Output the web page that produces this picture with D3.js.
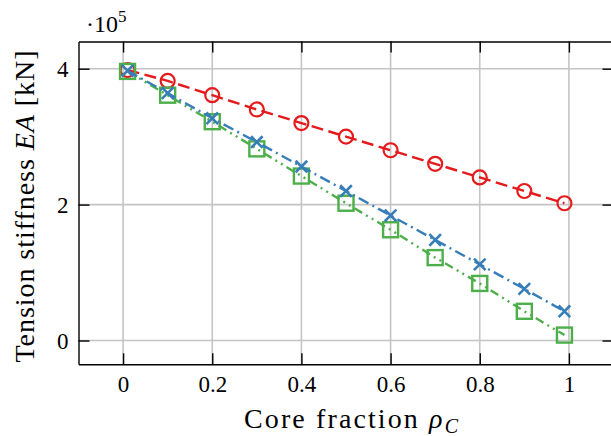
<!DOCTYPE html>
<html>
<head>
<meta charset="utf-8">
<script src="https://cdn.jsdelivr.net/npm/d3@7"></script>
<style>
  body { margin: 0; background: #fff; }
  svg { display: block; }
  text { font-family: "Liberation Serif", "Times New Roman", serif; fill: #000; }
</style>
</head>
<body>
<svg id="chart" width="611" height="436"></svg>
<script>
// Data (EA in kN)
var rho = [0.01, 0.1, 0.2, 0.3, 0.4, 0.5, 0.6, 0.7, 0.8, 0.9, 0.99];
var eaRed = [398000, 382000, 361000, 340000, 320000, 300000, 280000, 260000, 240000, 220000, 202000];
var eaBlue = [397000, 364000, 327000, 292000, 256000, 220000, 184000, 148000, 112000, 76000, 43000];
var eaGreen = [396000, 361000, 322000, 282000, 242000, 202000, 163000, 122000, 84000, 43000, 8000];
var xTicks = [0, 0.2, 0.4, 0.6, 0.8, 1];
var yTicks = [0, 200000, 400000];

var svg = d3.select("#chart");

// plot box in pixels (window.top is taken, so use a prefix)
var boxL = 78.5, boxR = 613.5, boxT = 41.5, boxB = 364.3;

var x = d3.scaleLinear().domain([-0.1, 1.1]).range([boxL, boxR]);
var y = d3.scaleLinear().domain([-35000, 440000]).range([boxB, boxT]);

// Grid
var grid = svg.append("g").attr("stroke", "#c4c4c4").attr("stroke-width", 1.6);
xTicks.forEach(function(t) {
    grid.append("line").attr("x1", x(t)).attr("x2", x(t)).attr("y1", boxT).attr("y2", boxB);
});
yTicks.forEach(function(t) {
    grid.append("line").attr("x1", boxL).attr("x2", boxR).attr("y1", y(t)).attr("y2", y(t));
});

// Series: red first, green, then blue on top
var series = [
    {values: eaRed, color: "#e41a1c", dash: "12,5.5", marker: "circle"},
    {values: eaGreen, color: "#4daf4a", dash: "9,4.5,2,4.5,2,4.5", marker: "square"},
    {values: eaBlue, color: "#377eb8", dash: "11,4.5,2,4.5", marker: "cross"}
];

var line = d3.line()
    .x(function(d) { return x(d[0]); })
    .y(function(d) { return y(d[1]); });

series.forEach(function(s) {
    var pts = rho.map(function(r, i) { return [r, s.values[i]]; });
    var g = svg.append("g");
    g.append("path")
        .attr("d", line(pts))
        .attr("fill", "none")
        .attr("stroke", s.color)
        .attr("stroke-width", 2.4)
        .attr("stroke-dasharray", s.dash);

    pts.forEach(function(p) {
        var cx = x(p[0]), cy = y(p[1]);
        if (s.marker === "circle") {
            g.append("circle").attr("cx", cx).attr("cy", cy).attr("r", 7)
                .attr("fill", "none").attr("stroke", s.color).attr("stroke-width", 2.2);
        } else if (s.marker === "square") {
            g.append("rect").attr("x", cx - 7.5).attr("y", cy - 7.5)
                .attr("width", 15).attr("height", 15)
                .attr("fill", "none").attr("stroke", s.color).attr("stroke-width", 2.4);
        } else {
            var h = 5.8;
            g.append("path")
                .attr("d", "M" + (cx - h) + "," + (cy - h) + "L" + (cx + h) + "," + (cy + h) +
                           "M" + (cx - h) + "," + (cy + h) + "L" + (cx + h) + "," + (cy - h))
                .attr("stroke", s.color).attr("stroke-width", 2.6).attr("fill", "none");
        }
    });
});

// Axes with inward ticks on all four sides
var fmtX = function(d) { return d3.format("~g")(d); };
var fmtY = function(d) { return d3.format("~g")(d / 1e5); };

var xAxis = svg.append("g")
    .attr("transform", "translate(0," + boxB + ")")
    .call(d3.axisBottom(x).tickValues(xTicks).tickFormat(fmtX).tickSizeInner(-11).tickSizeOuter(0).tickPadding(11));
var yAxis = svg.append("g")
    .attr("transform", "translate(" + boxL + ",0)")
    .call(d3.axisLeft(y).tickValues(yTicks).tickFormat(fmtY).tickSizeInner(-11).tickSizeOuter(0).tickPadding(10));
var xTop = svg.append("g")
    .attr("transform", "translate(0," + boxT + ")")
    .call(d3.axisTop(x).tickValues(xTicks).tickFormat("").tickSizeInner(-11).tickSizeOuter(0));
var yRight = svg.append("g")
    .attr("transform", "translate(" + boxR + ",0)")
    .call(d3.axisRight(y).tickValues(yTicks).tickFormat("").tickSizeInner(-11).tickSizeOuter(0));

[xAxis, yAxis, xTop, yRight].forEach(function(a) {
    a.select(".domain").attr("stroke", "#000").attr("stroke-width", 1.4);
    a.selectAll(".tick line").attr("stroke", "#000").attr("stroke-width", 1.4);
    a.selectAll(".tick text").attr("font-family", "Liberation Serif").attr("font-size", 23).attr("fill", "#000");
});
yAxis.selectAll(".tick text").attr("dy", "0.33em");

// Offset text above the y axis
var off = svg.append("text").attr("x", 86).attr("y", 32).attr("font-size", 24);
off.append("tspan").text("·10");
off.append("tspan").attr("font-size", 17).attr("dy", -10).text("5");

// Axis labels
var xl = svg.append("text")
    .attr("x", 244).attr("y", 428)
    .attr("font-size", 28)
    .attr("textLength", 214).attr("lengthAdjust", "spacing");
xl.append("tspan").text("Core fraction ");
xl.append("tspan").attr("font-style", "italic").text("ρ");
xl.append("tspan").attr("font-style", "italic").attr("font-size", 20).attr("dy", 5).text("C");

var yl = svg.append("text")
    .attr("transform", "translate(34,206.5) rotate(-90)")
    .attr("text-anchor", "middle")
    .attr("font-size", 28)
    .attr("textLength", 312).attr("lengthAdjust", "spacing");
yl.append("tspan").text("Tension stiffness ");
yl.append("tspan").attr("font-style", "italic").text("EA");
yl.append("tspan").text(" [kN]");
</script>
</body>
</html>
